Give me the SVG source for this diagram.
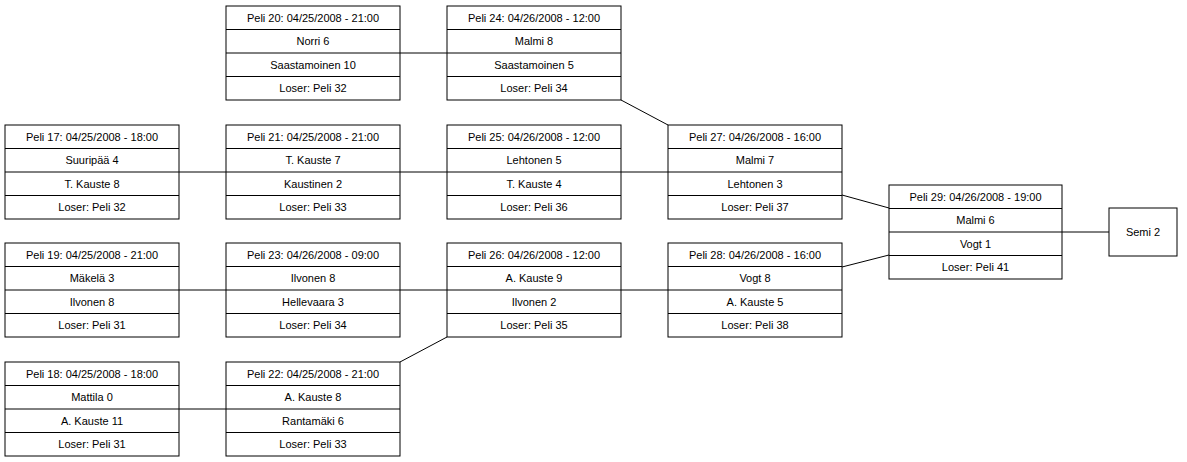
<svg xmlns="http://www.w3.org/2000/svg" width="1187" height="462" viewBox="0 0 1187 462">
<style>
rect{fill:#fff;stroke:#000;stroke-width:1}
line.d{stroke:#000;stroke-width:1}
text{font-family:"Liberation Sans",Arial,sans-serif;font-size:11px;text-anchor:middle;fill:#000}
#connectors line{stroke:#000;stroke-width:1}
</style>
<rect x="0" y="0" width="1187" height="462" style="stroke:none"/>
<g id="connectors">
<line x1="400" y1="53" x2="447" y2="53"/>
<line x1="621" y1="100" x2="668" y2="125"/>
<line x1="179" y1="172" x2="668" y2="172"/>
<line x1="179" y1="290" x2="668" y2="290"/>
<line x1="179" y1="409" x2="226" y2="409"/>
<line x1="400" y1="362" x2="447" y2="337"/>
<line x1="842" y1="195" x2="889" y2="208"/>
<line x1="842" y1="267" x2="889" y2="255"/>
<line x1="1062" y1="232" x2="1109" y2="232"/>
</g>
<g id="p20" transform="translate(226,6)"><rect width="174" height="94"/><line class="d" x1="0" y1="23.5" x2="174" y2="23.5"/><line class="d" x1="0" y1="47" x2="174" y2="47"/><line class="d" x1="0" y1="70.5" x2="174" y2="70.5"/><text x="87" y="16">Peli 20: 04/25/2008 - 21:00</text><text x="87" y="39">Norri 6</text><text x="87" y="63">Saastamoinen 10</text><text x="87" y="86">Loser: Peli 32</text></g>
<g id="p24" transform="translate(447,6)"><rect width="174" height="94"/><line class="d" x1="0" y1="23.5" x2="174" y2="23.5"/><line class="d" x1="0" y1="47" x2="174" y2="47"/><line class="d" x1="0" y1="70.5" x2="174" y2="70.5"/><text x="87" y="16">Peli 24: 04/26/2008 - 12:00</text><text x="87" y="39">Malmi 8</text><text x="87" y="63">Saastamoinen 5</text><text x="87" y="86">Loser: Peli 34</text></g>
<g id="p17" transform="translate(5,125)"><rect width="174" height="94"/><line class="d" x1="0" y1="23.5" x2="174" y2="23.5"/><line class="d" x1="0" y1="47" x2="174" y2="47"/><line class="d" x1="0" y1="70.5" x2="174" y2="70.5"/><text x="87" y="16">Peli 17: 04/25/2008 - 18:00</text><text x="87" y="39">Suuripää 4</text><text x="87" y="63">T. Kauste 8</text><text x="87" y="86">Loser: Peli 32</text></g>
<g id="p21" transform="translate(226,125)"><rect width="174" height="94"/><line class="d" x1="0" y1="23.5" x2="174" y2="23.5"/><line class="d" x1="0" y1="47" x2="174" y2="47"/><line class="d" x1="0" y1="70.5" x2="174" y2="70.5"/><text x="87" y="16">Peli 21: 04/25/2008 - 21:00</text><text x="87" y="39">T. Kauste 7</text><text x="87" y="63">Kaustinen 2</text><text x="87" y="86">Loser: Peli 33</text></g>
<g id="p25" transform="translate(447,125)"><rect width="174" height="94"/><line class="d" x1="0" y1="23.5" x2="174" y2="23.5"/><line class="d" x1="0" y1="47" x2="174" y2="47"/><line class="d" x1="0" y1="70.5" x2="174" y2="70.5"/><text x="87" y="16">Peli 25: 04/26/2008 - 12:00</text><text x="87" y="39">Lehtonen 5</text><text x="87" y="63">T. Kauste 4</text><text x="87" y="86">Loser: Peli 36</text></g>
<g id="p27" transform="translate(668,125)"><rect width="174" height="94"/><line class="d" x1="0" y1="23.5" x2="174" y2="23.5"/><line class="d" x1="0" y1="47" x2="174" y2="47"/><line class="d" x1="0" y1="70.5" x2="174" y2="70.5"/><text x="87" y="16">Peli 27: 04/26/2008 - 16:00</text><text x="87" y="39">Malmi 7</text><text x="87" y="63">Lehtonen 3</text><text x="87" y="86">Loser: Peli 37</text></g>
<g id="p19" transform="translate(5,243)"><rect width="174" height="94"/><line class="d" x1="0" y1="23.5" x2="174" y2="23.5"/><line class="d" x1="0" y1="47" x2="174" y2="47"/><line class="d" x1="0" y1="70.5" x2="174" y2="70.5"/><text x="87" y="16">Peli 19: 04/25/2008 - 21:00</text><text x="87" y="39">Mäkelä 3</text><text x="87" y="63">Ilvonen 8</text><text x="87" y="86">Loser: Peli 31</text></g>
<g id="p23" transform="translate(226,243)"><rect width="174" height="94"/><line class="d" x1="0" y1="23.5" x2="174" y2="23.5"/><line class="d" x1="0" y1="47" x2="174" y2="47"/><line class="d" x1="0" y1="70.5" x2="174" y2="70.5"/><text x="87" y="16">Peli 23: 04/26/2008 - 09:00</text><text x="87" y="39">Ilvonen 8</text><text x="87" y="63">Hellevaara 3</text><text x="87" y="86">Loser: Peli 34</text></g>
<g id="p26" transform="translate(447,243)"><rect width="174" height="94"/><line class="d" x1="0" y1="23.5" x2="174" y2="23.5"/><line class="d" x1="0" y1="47" x2="174" y2="47"/><line class="d" x1="0" y1="70.5" x2="174" y2="70.5"/><text x="87" y="16">Peli 26: 04/26/2008 - 12:00</text><text x="87" y="39">A. Kauste 9</text><text x="87" y="63">Ilvonen 2</text><text x="87" y="86">Loser: Peli 35</text></g>
<g id="p28" transform="translate(668,243)"><rect width="174" height="94"/><line class="d" x1="0" y1="23.5" x2="174" y2="23.5"/><line class="d" x1="0" y1="47" x2="174" y2="47"/><line class="d" x1="0" y1="70.5" x2="174" y2="70.5"/><text x="87" y="16">Peli 28: 04/26/2008 - 16:00</text><text x="87" y="39">Vogt 8</text><text x="87" y="63">A. Kauste 5</text><text x="87" y="86">Loser: Peli 38</text></g>
<g id="p18" transform="translate(5,362)"><rect width="174" height="94"/><line class="d" x1="0" y1="23.5" x2="174" y2="23.5"/><line class="d" x1="0" y1="47" x2="174" y2="47"/><line class="d" x1="0" y1="70.5" x2="174" y2="70.5"/><text x="87" y="16">Peli 18: 04/25/2008 - 18:00</text><text x="87" y="39">Mattila 0</text><text x="87" y="63">A. Kauste 11</text><text x="87" y="86">Loser: Peli 31</text></g>
<g id="p22" transform="translate(226,362)"><rect width="174" height="94"/><line class="d" x1="0" y1="23.5" x2="174" y2="23.5"/><line class="d" x1="0" y1="47" x2="174" y2="47"/><line class="d" x1="0" y1="70.5" x2="174" y2="70.5"/><text x="87" y="16">Peli 22: 04/25/2008 - 21:00</text><text x="87" y="39">A. Kauste 8</text><text x="87" y="63">Rantamäki 6</text><text x="87" y="86">Loser: Peli 33</text></g>
<g id="p29" transform="translate(889,185)"><rect width="173" height="94"/><line class="d" x1="0" y1="23.5" x2="173" y2="23.5"/><line class="d" x1="0" y1="47" x2="173" y2="47"/><line class="d" x1="0" y1="70.5" x2="173" y2="70.5"/><text x="86.5" y="16">Peli 29: 04/26/2008 - 19:00</text><text x="86.5" y="39">Malmi 6</text><text x="86.5" y="63">Vogt 1</text><text x="86.5" y="86">Loser: Peli 41</text></g>
<g id="semi2" transform="translate(1109,208)"><rect width="68" height="48"/><text x="34" y="28">Semi 2</text></g>
</svg>
